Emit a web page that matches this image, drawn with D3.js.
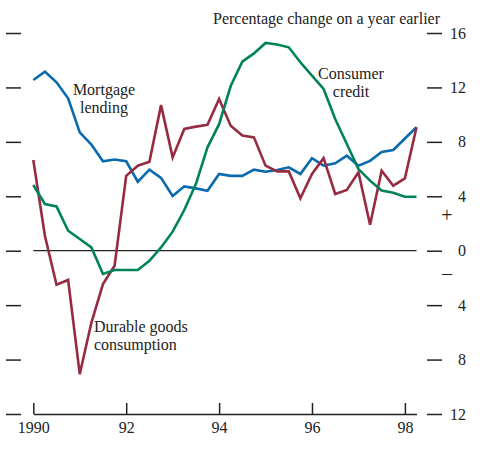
<!DOCTYPE html>
<html>
<head>
<meta charset="utf-8">
<script src="https://cdn.jsdelivr.net/npm/d3@7"></script>
<style>
  body { margin: 0; background: #fff; }
  svg text { font-family: "Liberation Serif", "DejaVu Serif", serif; fill: #222; }
</style>
</head>
<body>
<div class="chart"></div>
<script>
// quarterly, 1990 Q1 to 1998 Q2
const startYear = 1990;
const mortgage = [12.55, 13.16, 12.38, 11.2, 8.7, 7.8, 6.57, 6.7, 6.57, 5.07, 5.96, 5.35, 4.02, 4.73, 4.58, 4.41,
  5.64, 5.5, 5.5, 5.96, 5.8, 5.93, 6.13, 5.64, 6.8, 6.25, 6.42, 6.98, 6.25, 6.6, 7.25, 7.4, 8.25, 9.07];
const credit = [4.83, 3.43, 3.26, 1.47, 0.86, 0.24, -1.71, -1.42, -1.42, -1.42, -0.74, 0.24, 1.4, 2.99, 4.9, 7.6,
  9.3, 12.1, 13.9, 14.5, 15.27, 15.15, 14.95, 13.85, 12.87, 11.89, 9.68, 7.84, 6.0, 5.15, 4.43, 4.26, 3.97, 3.97];
const durables = [6.67, 1.1, -2.5, -2.15, -9.07, -5.3, -2.45, -1.1, 5.5, 6.25, 6.54, 10.7, 6.86, 8.95, 9.12, 9.26,
  11.15, 9.19, 8.46, 8.33, 6.25, 5.83, 5.83, 3.85, 5.64, 6.8, 4.17, 4.46, 5.76, 1.91, 5.88, 4.78, 5.32, 9.07];
const yTicks = [16, 12, 8, 4, 0, -4, -8, -12];
const xTicks = [1990, 1992, 1994, 1996, 1998];
const xTickLabels = ['1990', '92', '94', '96', '98'];

const w = 487;
const h = 459;

const xScale = d3.scaleLinear()
  .domain([1990, 1998.25])
  .range([33.3, 416.5]);
const yScale = d3.scaleLinear()
  .domain([-12, 16])
  .range([414, 33]);

const svg = d3.select('.chart')
  .append('svg')
  .attr('width', w)
  .attr('height', h);

// left ticks, no labels
svg.append('g')
  .attr('transform', 'translate(21, 0)')
  .call(d3.axisLeft(yScale).tickValues(yTicks).tickSize(15).tickFormat(''))
  .call((g) => g.select('.domain').remove())
  .selectAll('line').attr('stroke', '#222').attr('stroke-width', 1.5);

// right ticks with labels (negative values shown unsigned)
const right = svg.append('g')
  .attr('transform', 'translate(427, 0)')
  .call(d3.axisRight(yScale).tickValues(yTicks).tickSize(15).tickPadding(8)
    .tickFormat((d) => Math.abs(d)))
  .call((g) => g.select('.domain').remove());
right.selectAll('line').attr('stroke', '#222').attr('stroke-width', 1.5);
right.selectAll('text')
  .attr('font-size', 16)
  .attr('x', 39)
  .attr('text-anchor', 'end')
  .attr('fill', '#222');

svg.append('text')
  .attr('x', 447)
  .attr('y', 222)
  .attr('text-anchor', 'middle')
  .attr('font-size', 20)
  .text('+');
svg.append('text')
  .attr('x', 447)
  .attr('y', 280)
  .attr('text-anchor', 'middle')
  .attr('font-size', 20)
  .text('\u2013');

// x axis
const xAxis = svg.append('g')
  .attr('transform', `translate(0, ${yScale(-12)})`)
  .call(d3.axisBottom(xScale).tickValues(xTicks).tickSizeInner(-11).tickSizeOuter(0).tickPadding(8)
    .tickFormat((d, i) => xTickLabels[i]));
xAxis.select('.domain').attr('stroke', '#222').attr('stroke-width', 1.5);
xAxis.selectAll('line').attr('stroke', '#222').attr('stroke-width', 1.5);
xAxis.selectAll('text').attr('font-size', 16).attr('fill', '#222');

// zero line
svg.append('line')
  .attr('x1', xScale(1990))
  .attr('x2', xScale(1998.25))
  .attr('y1', yScale(0))
  .attr('y2', yScale(0))
  .attr('stroke', '#222')
  .attr('stroke-width', 1.2);

const line = d3.line()
  .x((d, i) => xScale(startYear + i * 0.25))
  .y((d) => yScale(d));

const series = [
  { values: mortgage, color: '#0a6aae' },
  { values: durables, color: '#962b42' },
  { values: credit, color: '#008457' }
];
series.forEach((s) => {
  svg.append('path')
    .datum(s.values)
    .attr('fill', 'none')
    .attr('stroke', s.color)
    .attr('stroke-width', 2.6)
    .attr('stroke-linejoin', 'miter')
    .attr('d', line);
});

// labels
function label(lines, x, y, anchor) {
  const t = svg.append('text')
    .attr('x', x)
    .attr('y', y)
    .attr('font-size', 16)
    .attr('text-anchor', anchor);
  lines.forEach((l, i) => {
    t.append('tspan').attr('x', x).attr('dy', i === 0 ? 0 : 18).text(l);
  });
}
label(['Percentage change on a year earlier'], 440, 24, 'end');
label(['Mortgage', 'lending'], 104, 95, 'middle');
label(['Consumer', 'credit'], 351, 79, 'middle');
label(['Durable goods', 'consumption'], 94, 332, 'start');
</script>
</body>
</html>
